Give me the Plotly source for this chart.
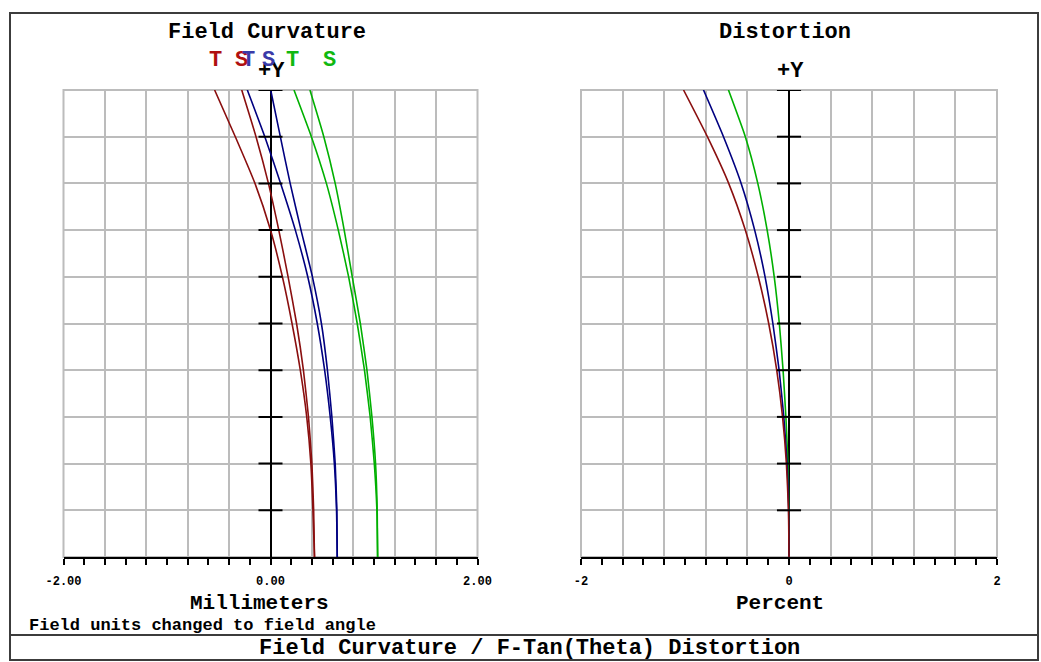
import plotly.graph_objects as go

# ---------------- data ----------------
field = [0.0, 0.1, 0.2, 0.3, 0.4, 0.5, 0.6, 0.7, 0.8, 0.9, 1.0]

fc_red_t = [0.425, 0.410, 0.390, 0.350, 0.288, 0.208, 0.115, 0.000, -0.150, -0.340, -0.540]
fc_red_s = [0.425, 0.417, 0.400, 0.367, 0.318, 0.252, 0.170, 0.080, -0.020, -0.140, -0.278]
fc_blue_t = [0.645, 0.638, 0.617, 0.577, 0.523, 0.452, 0.360, 0.240, 0.098, -0.055, -0.224]
fc_blue_s = [0.645, 0.641, 0.625, 0.593, 0.550, 0.492, 0.405, 0.295, 0.190, 0.095, 0.002]
fc_green_t = [1.035, 1.028, 1.003, 0.963, 0.908, 0.838, 0.755, 0.655, 0.540, 0.395, 0.227]
fc_green_s = [1.035, 1.031, 1.015, 0.980, 0.932, 0.868, 0.790, 0.712, 0.625, 0.515, 0.381]

dist_red = [0.0, -0.005, -0.025, -0.062, -0.118, -0.195, -0.295, -0.420, -0.580, -0.785, -1.014]
dist_blue = [0.0, -0.003, -0.018, -0.050, -0.095, -0.155, -0.230, -0.330, -0.460, -0.630, -0.822]
dist_green = [0.0, -0.001, -0.010, -0.030, -0.057, -0.093, -0.142, -0.210, -0.300, -0.420, -0.582]

x_grid = [-2.0, -1.6, -1.2, -0.8, -0.4, 0.0, 0.4, 0.8, 1.2, 1.6, 2.0]
fc_ticktext = ["-2.00", "", "", "", "", "0.00", "", "", "", "", "2.00"]
dist_ticktext = ["-2", "", "", "", "", "0", "", "", "", "", "2"]

legend_letters = ["T", "S", "T", "S", "T", "S"]
legend_x = [-0.536, -0.278, -0.217, -0.024, 0.217, 0.574]

# ---------------- styling ----------------
W, H = 1041, 662
RED = "#8a0f0f"
BLUE = "#000080"
GREEN = "#00b000"
LBL_RED = "#b01010"
LBL_BLUE = "#3a3aa8"
LBL_GREEN = "#10b810"
GRID = "#bcbcbc"
FONT = "Courier New, Liberation Mono, monospace"


def px(x):
    return x / W


def py(y):
    return 1 - y / H


fig = go.Figure()

fc_series = [(fc_red_t, RED), (fc_red_s, RED), (fc_blue_t, BLUE),
             (fc_blue_s, BLUE), (fc_green_t, GREEN), (fc_green_s, GREEN)]
for xs, col in fc_series:
    fig.add_trace(go.Scatter(x=xs, y=field, mode="lines", xaxis="x", yaxis="y",
                             line=dict(color=col, width=1.6, shape="spline", smoothing=0.5),
                             showlegend=False, hoverinfo="skip"))

dist_series = [(dist_green, GREEN), (dist_blue, BLUE), (dist_red, RED)]
for xs, col in dist_series:
    fig.add_trace(go.Scatter(x=xs, y=field, mode="lines", xaxis="x2", yaxis="y2",
                             line=dict(color=col, width=1.6, shape="spline", smoothing=0.5),
                             showlegend=False, hoverinfo="skip"))

ydom = [py(557), py(90)]


def xaxis_cfg(domain, ticktext):
    return dict(
        domain=domain, range=[-2, 2], fixedrange=True, automargin=False,
        tickmode="array", tickvals=x_grid, ticktext=ticktext,
        ticks="outside", ticklen=6, tickwidth=1.5, tickcolor="black",
        ticklabelstandoff=6,
        minor=dict(tickmode="linear", tick0=0, dtick=0.2, ticks="outside",
                   ticklen=6, tickwidth=1.5, tickcolor="black", showgrid=False),
        showgrid=True, gridcolor=GRID, gridwidth=2,
        showline=True, linecolor="black", linewidth=2,
        zeroline=True, zerolinecolor="black", zerolinewidth=2,
        tickfont=dict(family=FONT, size=12, color="black", weight="bold"),
    )


def yaxis_cfg(anchor):
    return dict(
        domain=ydom, range=[0, 1], anchor=anchor, fixedrange=True, automargin=False,
        tickmode="array", tickvals=field, showticklabels=False, ticks="",
        showgrid=True, gridcolor=GRID, gridwidth=2,
        zeroline=False, showline=False,
    )


fig.update_layout(
    template="none",
    width=W, height=H, margin=dict(l=0, r=0, t=0, b=0, pad=0, autoexpand=False),
    paper_bgcolor="white", plot_bgcolor="white",
    xaxis=xaxis_cfg([px(63.5), px(477.5)], fc_ticktext) | dict(anchor="y"),
    yaxis=yaxis_cfg("x"),
    xaxis2=xaxis_cfg([px(581), px(997)], dist_ticktext) | dict(anchor="y2"),
    yaxis2=yaxis_cfg("x2"),
    showlegend=False,
)

shapes = []
# gray plot frames
for xr, yr in (("x", "y"), ("x2", "y2")):
    shapes.append(dict(type="rect", xref=xr + " domain", yref=yr + " domain",
                       x0=0, x1=1, y0=0, y1=1, line=dict(color=GRID, width=2),
                       layer="below"))
    # short horizontal ticks on the central +Y axis
    for fv in field[1:]:
        shapes.append(dict(type="line", xref=xr, yref=yr, x0=-0.116, x1=0.116,
                           y0=fv, y1=fv, line=dict(color="black", width=2)))

# outer frame and separator
shapes.append(dict(type="rect", xref="paper", yref="paper",
                   x0=px(10), x1=px(1038), y0=py(660), y1=py(13),
                   line=dict(color="#3c3c3c", width=2)))
shapes.append(dict(type="line", xref="paper", yref="paper",
                   x0=px(10), x1=px(1038), y0=py(635), y1=py(635),
                   line=dict(color="#3c3c3c", width=2)))
fig.update_layout(shapes=shapes)

ann = []


def text(x, y, s, size=22, color="black", xanchor="center", xref="paper", weight="bold"):
    ann.append(dict(x=x, y=py(y), xref=xref, yref="paper", text=s, showarrow=False,
                    xanchor=xanchor, yanchor="middle",
                    font=dict(family=FONT, size=size, color=color, weight=weight)))


text(px(267), 32, "Field Curvature")
text(px(785), 32, "Distortion")
text(px(271), 72, "+Y")
text(px(790), 72, "+Y")
text(px(259), 603, "Millimeters", size=21)
text(px(780), 603, "Percent", size=21)
text(px(27), 625, "Field units changed to field angle", size=17, xanchor="left")
text(px(529), 648, "Field Curvature / F-Tan(Theta) Distortion")

lbl_cols = [LBL_RED, LBL_RED, LBL_BLUE, LBL_BLUE, LBL_GREEN, LBL_GREEN]
for letter, lx, c in zip(legend_letters, legend_x, lbl_cols):
    text(lx, 60, letter, color=c, xref="x")

fig.update_layout(annotations=ann)

fig.write_html("out.html")
